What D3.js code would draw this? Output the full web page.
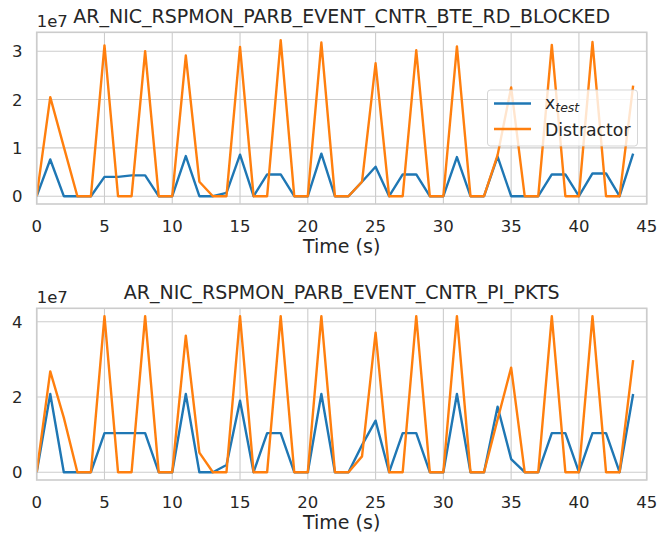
<!DOCTYPE html>
<html>
<head>
<meta charset="UTF-8">
<script src="https://d3js.org/d3.v7.min.js"></script>
<style>
  body { margin: 0; background: #fff; }
  text { font-family: "DejaVu Sans", sans-serif; fill: #262626; }
</style>
</head>
<body>
<svg id="chart" width="657" height="538"></svg>
<script>
// time in seconds
const time = d3.range(0, 45);

// panel 1: AR_NIC_RSPMON_PARB_EVENT_CNTR_BTE_RD_BLOCKED (units of 1e7)
const bteTest = [0, 0.76, 0, 0, 0, 0.40, 0.40, 0.43, 0.43, 0, 0, 0.83, 0, 0, 0.07, 0.86, 0, 0.45, 0.45, 0, 0,
  0.88, 0, 0, 0.30, 0.61, 0, 0.45, 0.45, 0, 0, 0.81, 0, 0, 0.82, 0, 0, 0, 0.45, 0.45, 0, 0.47, 0.47, 0, 0.88];
const bteDistractor = [0, 2.05, 1.02, 0, 0, 3.12, 0, 0, 3.0, 0, 0, 2.91, 0.30, 0, 0, 3.09, 0, 0, 3.23, 0, 0,
  3.18, 0, 0, 0.30, 2.75, 0, 0, 3.02, 0, 0, 3.1, 0, 0, 0.85, 2.25, 0, 0, 3.13, 0, 0, 3.19, 0, 0, 2.29];

// panel 2: AR_NIC_RSPMON_PARB_EVENT_CNTR_PI_PKTS (units of 1e7)
const pktsTest = [0, 2.08, 0, 0, 0, 1.04, 1.04, 1.04, 1.04, 0, 0, 2.08, 0, 0, 0.19, 1.9, 0, 1.04, 1.04, 0, 0,
  2.08, 0, 0, 0.72, 1.37, 0, 1.04, 1.04, 0, 0, 2.08, 0, 0, 1.74, 0.35, 0, 0, 1.04, 1.04, 0, 1.04, 1.04, 0, 2.08];
const pktsDistractor = [0, 2.68, 1.45, 0, 0, 4.15, 0, 0, 4.15, 0, 0, 3.63, 0.52, 0, 0, 4.15, 0, 0, 4.15, 0, 0,
  4.15, 0, 0, 0.42, 3.71, 0, 0, 4.15, 0, 0, 4.15, 0, 0, 1.4, 2.78, 0, 0, 4.15, 0, 0, 4.15, 0, 0, 2.98];

const xTicks = [0, 5, 10, 15, 20, 25, 30, 35, 40, 45];
const panels = [
  { title: "AR_NIC_RSPMON_PARB_EVENT_CNTR_BTE_RD_BLOCKED", test: bteTest, distractor: bteDistractor,
    yTicks: [0, 1, 2, 3], top: 32.3, legend: true },
  { title: "AR_NIC_RSPMON_PARB_EVENT_CNTR_PI_PKTS", test: pktsTest, distractor: pktsDistractor,
    yTicks: [0, 2, 4], top: 308.3, legend: false }
];

const blue = "#1f77b4", orange = "#ff7f0e", gridCol = "#cccccc";
const left = 36.7, right = 646.7, panelH = 171.7;

const svg = d3.select("#chart");

panels.forEach((p, i) => {
  const top = p.top, bottom = top + panelH;
  const x = d3.scaleLinear().domain([0, 45]).range([left, right]);
  const all = p.test.concat(p.distractor);
  const maxV = d3.max(all), pad = maxV * 0.05;
  const y = d3.scaleLinear().domain([-pad, maxV + pad]).range([bottom, top]);

  const g = svg.append("g");

  // grid
  g.append("g").selectAll("line.vg").data(xTicks).join("line")
    .attr("x1", d => x(d)).attr("x2", d => x(d)).attr("y1", top).attr("y2", bottom)
    .attr("stroke", gridCol).attr("stroke-width", 1.1);
  g.append("g").selectAll("line.hg").data(p.yTicks).join("line")
    .attr("x1", left).attr("x2", right).attr("y1", d => y(d)).attr("y2", d => y(d))
    .attr("stroke", gridCol).attr("stroke-width", 1.1);

  // tick labels
  g.append("g").selectAll("text").data(xTicks).join("text")
    .attr("x", d => x(d)).attr("y", bottom + 28)
    .attr("text-anchor", "middle").style("font-size", "16.5px").text(d => d);
  g.append("g").selectAll("text").data(p.yTicks).join("text")
    .attr("x", 22.5).attr("y", d => y(d) + 6)
    .attr("text-anchor", "end").style("font-size", "16.5px").text(d => d);

  // lines
  const clipId = "clip" + i;
  svg.append("clipPath").attr("id", clipId).append("rect")
    .attr("x", left).attr("y", top).attr("width", right - left).attr("height", panelH);
  const line = d3.line().x((d, j) => x(time[j])).y(d => y(d));
  const lg = g.append("g").attr("clip-path", `url(#${clipId})`);
  lg.append("path").datum(p.test).attr("d", line)
    .attr("fill", "none").attr("stroke", blue).attr("stroke-width", 2.4).attr("stroke-linejoin", "round");
  lg.append("path").datum(p.distractor).attr("d", line)
    .attr("fill", "none").attr("stroke", orange).attr("stroke-width", 2.4).attr("stroke-linejoin", "round");

  // frame
  g.append("rect").attr("x", left).attr("y", top).attr("width", right - left).attr("height", panelH)
    .attr("fill", "none").attr("stroke", gridCol).attr("stroke-width", 1.6);

  // titles and labels
  g.append("text").attr("x", (left + right) / 2).attr("y", top - 9.5)
    .attr("text-anchor", "middle").style("font-size", "19px").text(p.title);
  g.append("text").attr("x", left).attr("y", top - 5.5)
    .style("font-size", "16.5px").text("1e7");
  g.append("text").attr("x", (left + right) / 2).attr("y", bottom + 49)
    .attr("text-anchor", "middle").style("font-size", "19px").text("Time (s)");

  if (p.legend) {
    const lgd = g.append("g");
    lgd.append("rect").attr("x", 487.5).attr("y", 90).attr("width", 150).attr("height", 56)
      .attr("rx", 3).attr("fill", "#fff").attr("fill-opacity", 0.8)
      .attr("stroke", gridCol).attr("stroke-opacity", 0.8);
    const items = [{ c: blue, y: 103.5 }, { c: orange, y: 129 }];
    lgd.selectAll("line").data(items).join("line")
      .attr("x1", 494).attr("x2", 531).attr("y1", d => d.y).attr("y2", d => d.y)
      .attr("stroke", d => d.c).attr("stroke-width", 2.4);
    const t1 = lgd.append("text").attr("x", 545).attr("y", 108.5).style("font-size", "17.3px");
    t1.append("tspan").text("x");
    t1.append("tspan").attr("dy", 3.5).style("font-size", "12.5px").style("font-style", "italic").text("test");
    lgd.append("text").attr("x", 545).attr("y", 136).style("font-size", "17.3px").text("Distractor");
  }
});
</script>
</body>
</html>
